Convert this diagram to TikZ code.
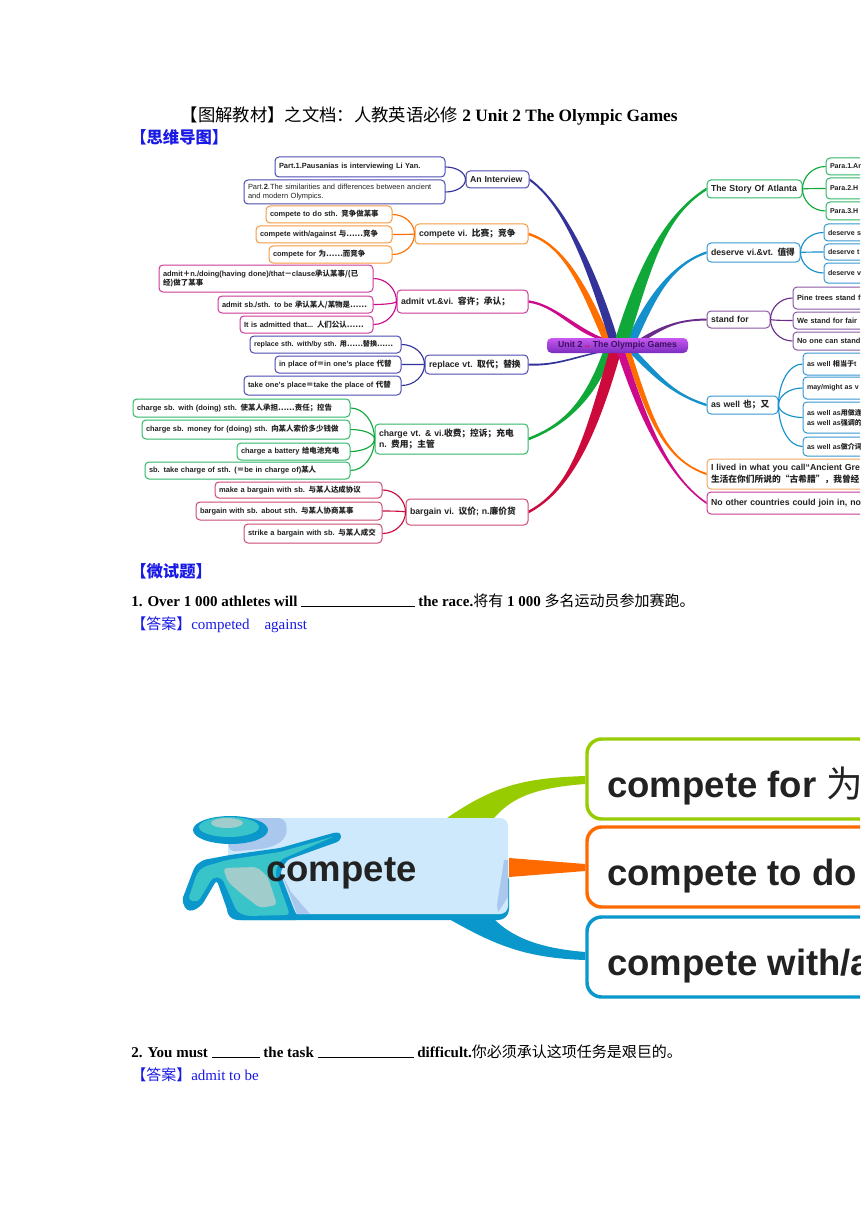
\documentclass[tikz,border=0pt]{standalone}
\usepackage{fontspec}
\setmainfont{Liberation Serif}
\setsansfont{Liberation Sans}
\newfontfamily\cjk{Noto Sans CJK SC}
\usetikzlibrary{calc,shapes.geometric}
\newcommand{\zhr}[1]{{\mdseries\cjk #1}}
\newcommand{\zhb}[1]{{\bfseries\cjk #1}}
\definecolor{cDarkBlue}{HTML}{33339A}
\definecolor{cOrange}{HTML}{FF6F00}
\definecolor{cMagenta}{HTML}{CC0A8A}
\definecolor{cGreen}{HTML}{10A838}
\definecolor{cBlue}{HTML}{1490CC}
\definecolor{cPurple}{HTML}{6B2D8C}
\definecolor{cCrimson}{HTML}{CC0A3C}
\definecolor{bBlue}{HTML}{4A4AB0}
\definecolor{bOrange}{HTML}{F59A40}
\definecolor{bMagenta}{HTML}{CC3A98}
\definecolor{bGreen}{HTML}{30B868}
\definecolor{bRose}{HTML}{CC4A70}
\definecolor{bSky}{HTML}{3A98D0}
\definecolor{bPurple}{HTML}{8A5AA0}
\definecolor{bPale}{HTML}{F0A860}
\definecolor{txt}{HTML}{222222}
\definecolor{docblue}{HTML}{1A1AE6}
\definecolor{gLime}{HTML}{97CC00}
\definecolor{gOrange}{HTML}{FF6A00}
\definecolor{gBlue}{HTML}{0A98CC}
\definecolor{gLight}{HTML}{CDE9FB}
\definecolor{gShade}{HTML}{AAC8EE}
\definecolor{gTeal}{HTML}{38C4C8}
\definecolor{gGrey}{HTML}{A0CCCC}
\definecolor{hubTop}{HTML}{C858F0}
\definecolor{hubMid}{HTML}{A83CE8}
\definecolor{hubBot}{HTML}{7B2CC0}
\definecolor{hubTxt}{HTML}{3A1060}
\tikzset{
  mmbox/.style={draw, line width=0.75pt, rounded corners=3pt, fill=white, inner xsep=2.6pt, inner ysep=0pt, align=left, text=txt, font=\sffamily\bfseries},
  leaf/.style={font=\sffamily\bfseries\fontsize{5.6}{7}\selectfont},
  leafs/.style={font=\sffamily\bfseries\fontsize{5.3}{7.4}\selectfont},
  branch/.style={font=\sffamily\bfseries\fontsize{6.55}{8.6}\selectfont},
  forkline/.style={line width=0.85pt},
  docblack/.style={anchor=base west, inner sep=0pt, text=black, font=\bfseries\fontsize{11.25}{13}\selectfont},
  docbluebold/.style={anchor=base west, inner sep=0pt, text=docblue, font=\bfseries\fontsize{12.25}{14}\selectfont},
  docanswer/.style={anchor=base west, inner sep=0pt, text=docblue, font=\fontsize{11.25}{13}\selectfont},
  bigbox/.style={draw, line width=2.6pt, rounded corners=11pt, fill=white, inner sep=0pt},
  bigtext/.style={anchor=base west, inner sep=0pt, text=txt, font=\sffamily\bfseries\fontsize{27.4}{30}\selectfont},
}
\newcommand{\mmnode}[8][leaf]{%
  \pgfmathsetmacro{\mmW}{(#5-#3)*0.75}%
  \pgfmathsetmacro{\mmH}{(#6-#4)*0.75}%
  \pgfmathsetmacro{\mmT}{(#5-#3)*0.75-6}%
  \node[mmbox,#1,draw=#7,minimum width=\mmW pt,minimum height=\mmH pt,text width=\mmT pt] (#2) at ({(#3+#5)/2},{(#4+#6)/2}) {#8};}
\newcommand{\fork}[3]{%
  \draw[forkline,#1] (#2) .. controls ($(#2)!0.55!(#2 |- #3)$) and ($(#3)!0.55!(#3 -| #2)$) .. (#3);}
\newcommand{\taper}[7]{%
  \fill[#1] ($#2+(-#3,0)$) .. controls ($#4+(-#3,0)$) and ($#5+(0,#7)$) .. ($(#6)+(0,#7)$)
     -- ($(#6)+(0,-#7)$) .. controls ($#5+(0,-#7)$) and ($#4+(#3,0)$) .. ($#2+(#3,0)$) -- cycle;}
\begin{document}
\begin{tikzpicture}[x=0.75pt,y=-0.75pt]
\useasboundingbox (0,0) rectangle (860,1216);
\clip (0,0) rectangle (860,1216);
\fill[white] (0,0) rectangle (860,1216);

% ---- document text
\node[docblack,font=\bfseries\fontsize{13}{15}\selectfont] (title) at (180.5,122) {\zhr{【图解教材】之文档：人教英语必修} 2 Unit 2 The Olympic Games};
\node[docbluebold] (head1) at (130,144) {\zhb{【思维导图】}};
\node[docbluebold] (head2) at (130,577) {\zhb{【微试题】}};
\node[docblack] (q1) at (131,606) {1. Over 1 000 athletes will \rule[-1pt]{85pt}{0.7pt} the race.\zhr{将有} 1 000 \zhr{多名运动员参加赛跑。}};
\node[docanswer] (a1) at (131,629) {\zhr{【答案】}competed\hspace{1em}against};
\node[docblack] (q2) at (131,1057) {2. You must \rule[-1pt]{36pt}{0.7pt} the task \rule[-1pt]{72pt}{0.7pt} difficult.\zhr{你必须承认这项任务是艰巨的。}};
\node[docanswer] (a2) at (131,1080) {\zhr{【答案】}admit to be};

% ---- mind map, left side
\mmnode[branch]{interview}{466}{171}{529}{188}{bBlue}{An Interview}
\mmnode{p1}{275}{157}{445}{177}{bBlue}{Part.1.Pausanias is interviewing Li Yan.}
\mmnode[font=\sffamily\fontsize{5.6}{6.6}\selectfont]{p2}{244}{180}{445}{204}{bBlue}{Part.\textbf{2}.The similarities and differences between ancient\\and modern Olympics.}
\mmnode[branch]{compete}{415}{224}{528}{244}{bOrange}{compete vi. \zhb{比赛；竞争}}
\mmnode{c1}{266}{206}{392}{223}{bOrange}{compete to do sth. \zhb{竞争做某事}}
\mmnode{c2}{256}{226}{392}{243}{bOrange}{compete with/against \zhb{与……竞争}}
\mmnode{c3}{269}{246}{392}{263}{bOrange}{compete for \zhb{为……而竞争}}
\mmnode[branch]{admit}{397}{290}{528}{313}{bMagenta}{admit vt.\&vi. \zhb{容许；承认；}}
\mmnode{d1}{159}{265}{373}{292}{bMagenta}{admit\zhb{＋}n./doing(having done)/that\zhb{－}clause\zhb{承认某事/(已}\\\zhb{经)做了某事}}
\mmnode{d2}{218}{296}{373}{313}{bMagenta}{admit sb./sth. to be \zhb{承认某人/某物是……}}
\mmnode{d3}{240}{316}{373}{333}{bMagenta}{It is admitted that... \zhb{人们公认……}}
\mmnode[branch]{replace}{425}{355}{528}{374}{bBlue}{replace vt. \zhb{取代；替换}}
\mmnode[leafs]{r1}{250}{336}{401}{353}{bBlue}{replace sth. with/by sth. \zhb{用……替换……}}
\mmnode{r2}{275}{356}{401}{373}{bBlue}{in place of\zhb{＝}in one's place \zhb{代替}}
\mmnode{r3}{244}{376}{401}{395}{bBlue}{take one's place\zhb{＝}take the place of \zhb{代替}}
\mmnode[branch]{charge}{375}{424}{528}{454}{bGreen}{charge vt. \& vi.\zhb{收费；控诉；充电}\\n. \zhb{费用；主管}}
\mmnode{e1}{133}{399}{350}{417}{bGreen}{charge sb. with (doing) sth. \zhb{使某人承担……责任；控告}}
\mmnode{e2}{142}{420}{350}{439}{bGreen}{charge sb. money for (doing) sth. \zhb{向某人索价多少钱做}}
\mmnode{e3}{237}{443}{350}{460}{bGreen}{charge a battery \zhb{给电池充电}}
\mmnode{e4}{145}{462}{350}{479}{bGreen}{sb. take charge of sth. (\zhb{＝}be in charge of)\zhb{某人}}
\mmnode[branch]{bargain}{406}{499}{528}{525}{bRose}{bargain vi. \zhb{议价}; n.\zhb{廉价货}}
\mmnode{b1}{215}{482}{382}{498}{bRose}{make a bargain with sb. \zhb{与某人达成协议}}
\mmnode{b2}{196}{502}{382}{520}{bRose}{bargain with sb. about sth. \zhb{与某人协商某事}}
\mmnode{b3}{244}{524}{382}{543}{bRose}{strike a bargain with sb. \zhb{与某人成交}}

% ---- mind map, right side
\mmnode[branch]{story}{707}{180}{802}{198}{bGreen}{The Story Of Atlanta}
\mmnode[leafs]{s1}{826}{158}{960}{175}{bGreen}{Para.1.An}
\mmnode[leafs]{s2}{826}{178}{960}{199}{bGreen}{Para.2.H}
\mmnode[leafs]{s3}{826}{202}{960}{220}{bGreen}{Para.3.H}
\mmnode[branch]{deserve}{707}{243}{800}{262}{bSky}{deserve vi.\&vt. \zhb{值得}}
\mmnode[leafs]{v1}{824}{224}{960}{241}{bSky}{deserve s}
\mmnode[leafs]{v2}{824}{244}{960}{260}{bSky}{deserve t}
\mmnode[leafs]{v3}{824}{263}{960}{283}{bSky}{deserve v}
\mmnode[branch]{stand}{707}{311}{770}{328}{bPurple}{stand for}
\mmnode{t1}{793}{287}{960}{309}{bPurple}{Pine trees stand f}
\mmnode{t2}{793}{312}{960}{329}{bPurple}{We stand for fair}
\mmnode{t3}{793}{332}{960}{350}{bPurple}{No one can stand}
\mmnode[branch]{aswell}{707}{396}{778}{414}{bSky}{as well \zhb{也；又}}
\mmnode[leafs]{w1}{803}{353}{960}{375}{bSky}{as well \zhb{相当于}t}
\mmnode[leafs]{w2}{803}{377}{960}{399}{bSky}{may/might as v}
\mmnode[leafs]{w3}{803}{402}{960}{433}{bSky}{as well as\zhb{用做连}\\as well as\zhb{强调的}}
\mmnode[leafs]{w4}{803}{437}{960}{456}{bSky}{as well as\zhb{做介词}}
\mmnode[branch]{lived}{707}{459}{1000}{489}{bPale}{I lived in what you call“Ancient Gre\\\zhb{生活在你们所说的“古希腊”，我曾经}}
\mmnode[branch]{other}{707}{492}{1000}{514}{bMagenta}{No other countries could join in, no}

% ---- fork connectors
\foreach \a in {p1,p2}{\fork{cDarkBlue}{interview.west}{\a.east}}
\foreach \a in {c1,c2,c3}{\fork{cOrange}{compete.west}{\a.east}}
\foreach \a in {d1,d2,d3}{\fork{cMagenta}{admit.west}{\a.east}}
\foreach \a in {r1,r2,r3}{\fork{cDarkBlue}{replace.west}{\a.east}}
\foreach \a in {e1,e2,e3,e4}{\fork{cGreen}{charge.west}{\a.east}}
\foreach \a in {b1,b2,b3}{\fork{cCrimson}{bargain.west}{\a.east}}
\foreach \a in {s1,s2,s3}{\fork{cGreen}{story.east}{\a.west}}
\foreach \a in {v1,v2,v3}{\fork{cBlue}{deserve.east}{\a.west}}
\foreach \a in {t1,t2,t3}{\fork{cPurple}{stand.east}{\a.west}}
\foreach \a in {w1,w2,w3,w4}{\fork{cBlue}{aswell.east}{\a.west}}

% ---- main tapered branches
\taper{cOrange}{(606,338)}{4}{(585,290)}{(565,245)}{compete.east}{1.3}
\taper{cDarkBlue}{(613,338)}{4.5}{(592,270)}{(565,205)}{interview.east}{1.3}
\taper{cMagenta}{(602,339)}{4}{(575,330)}{(555,305)}{admit.east}{1.2}
\taper{cBlue}{(632,340)}{5}{(650,300)}{(670,265)}{deserve.west}{-1.2}
\taper{cGreen}{(622,340)}{7}{(645,265)}{(665,215)}{story.west}{-1.4}
\taper{cPurple}{(640,341)}{4}{(665,325)}{(680,320)}{stand.west}{-1}
\taper{cDarkBlue}{(600,352)}{3}{(575,357)}{(555,366)}{replace.east}{-1}
\taper{cGreen}{(608,352)}{5}{(590,400)}{(565,425)}{charge.east}{-1.4}
\taper{cCrimson}{(615,352)}{6}{(590,440)}{(570,490)}{bargain.east}{-1.4}
\taper{cBlue}{(633,352)}{4}{(660,380)}{(675,395)}{aswell.west}{1.2}
\taper{cOrange}{(628,352)}{3}{(650,420)}{(665,460)}{lived.west}{1}
\taper{cMagenta}{(621,352)}{4}{(640,410)}{(665,475)}{other.west}{1}

% ---- hub
\node[rectangle,rounded corners=3.5pt,minimum width=105.75pt,minimum height=11.25pt,inner sep=0pt,
  top color=hubTop,middle color=hubMid,bottom color=hubBot,
  font=\sffamily\bfseries\fontsize{6.55}{7}\selectfont,text=hubTxt] (hub) at (617.5,345.5)
  {Unit 2 \textcolor{red}{..} The Olympic Games};

% ---- lower graphic
\node[bigbox,draw=gLime,minimum width=300pt,minimum height=60pt] (gfor) at (787,779) {};
\node[bigbox,draw=gOrange,minimum width=300pt,minimum height=60pt] (gdo) at (787,867) {};
\node[bigbox,draw=gBlue,minimum width=300pt,minimum height=60pt] (gwith) at (787,957) {};
\node[bigtext] (tfor) at (607,797) {compete for \zhr{为}};
\node[bigtext] (tdo) at (607,885) {compete to do};
\node[bigtext] (twith) at (607,975) {compete with/a};

\coordinate (gfA) at (447,818); \coordinate (gfB) at (494,818);
\coordinate (gbA) at (449,919); \coordinate (gbB) at (494,919);
\fill[gLime] (gfA) .. controls (495,785) and (525,778) .. ($(gfor.west)+(0,-3)$) -- ($(gfor.west)+(0,5)$)
   .. controls (530,788) and (510,800) .. (gfB) -- cycle;
\fill[gOrange] (509,858) -- ($(gdo.west)+(0,-3)$) -- ($(gdo.west)+(0,4)$) -- (509,877) -- cycle;
\fill[gBlue] (gbA) .. controls (495,945) and (525,958) .. ($(gwith.west)+(0,3)$) -- ($(gwith.west)+(0,-5)$)
   .. controls (535,948) and (510,935) .. (gbB) -- cycle;

% box base and face
\fill[gBlue,rounded corners=8pt] (227,870) rectangle (509,920);
\fill[gLight,rounded corners=6pt] (228,818) rectangle (508,914);
\fill[gShade] (504,860) -- (508,860) -- (508,897) -- (498,912) -- (497,905) -- cycle;
\fill[gShade,rounded corners=6pt] (228,818) -- (286,818) -- (287,838) -- (270,848) -- (228,852) -- cycle;
\fill[gShade] (281,872) -- (291,892) -- (310,914) -- (297,914) -- cycle;
% figure
\fill[gBlue,rounded corners=2.5pt] (341.7,834) -- (336.7,832) -- (280,848) -- (230,855) -- (203,860) -- (195,866)
  -- (182,900) -- (186,910) -- (193,911) -- (202,905) -- (216.7,880) -- (228,912) -- (238,920) -- (300,920)
  -- (295,912) -- (280,873) -- (287,860) -- (340,841) -- cycle;
\fill[gTeal,rounded corners=3pt] (335,836) -- (280,852) -- (227,860) -- (203,867) -- (197,873) -- (188,900)
   -- (198,902) -- (213,877) -- (222,878) -- (237,912) -- (247,916) -- (290,915) -- (275,873) -- (280,860) -- cycle;
\fill[gGrey,rounded corners=3pt] (223,868) -- (257,867) -- (268,877) -- (277,905) -- (260,908) -- (243,895) -- (228,882) -- cycle;
\node[ellipse,fill=gBlue,minimum width=56.25pt,minimum height=21pt,inner sep=0pt] (head) at (230.5,830) {};
\fill[gTeal] (229,827) ellipse [x radius=30,y radius=10];
\fill[gGrey] (227,823) ellipse [x radius=16,y radius=5];
\node[bigtext] (tcompete) at (266,881.7) {compete};
\end{tikzpicture}
\end{document}
